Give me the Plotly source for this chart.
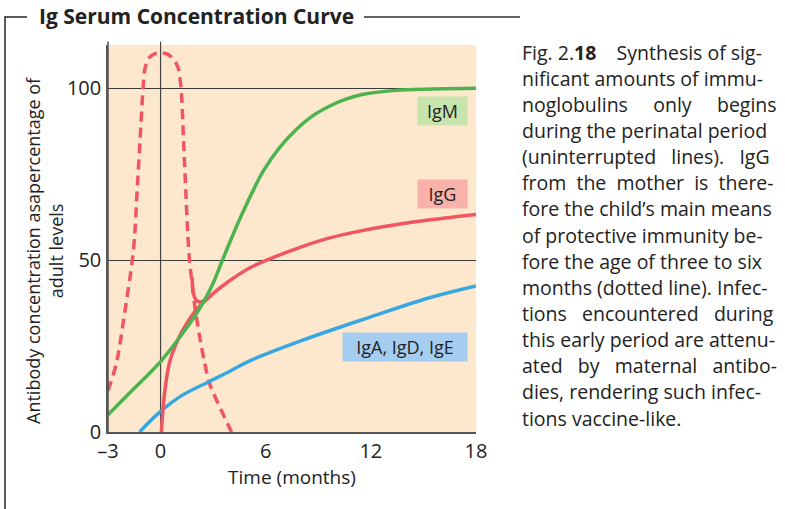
import plotly.graph_objects as go

# ---------------- data ----------------
igm_x = [-3, -1.6, 0, 1.1, 2.05, 2.5, 3.0, 3.5, 4.0, 4.7, 5.85, 6.8, 7.7, 8.6, 9.6, 10.5, 11.5, 13.4, 15.5, 18]
igm_y = [5.0, 12.2, 20.5, 27.6, 34.5, 38.3, 43.3, 49.6, 55.8, 64.0, 75.8, 82.8, 87.8, 91.7, 94.7, 96.7, 98.2, 99.4, 99.8, 100]

igg_x = [0.05, 0.2, 0.5, 1.0, 1.5, 2.0, 2.8, 3.8, 5.0, 6.2, 8.0, 9.6, 11.5, 13.4, 15.5, 18]
igg_y = [0, 10, 20, 27, 31.7, 35.3, 39.4, 43.5, 47.5, 50.3, 53.8, 56.4, 58.6, 60.3, 61.8, 63.3]

iga_x = [-1.2, 0, 1.27, 2.79, 3.93, 5.0, 8.0, 12.0, 15.3, 18]
iga_y = [0, 6, 10.8, 14.7, 17.6, 20.5, 26.5, 33.5, 39, 42.5]

maternal_x = [-3, -2.52, -2.05, -1.61, -1.48, -1.34, -1.17, -1.0, -0.9, -0.7, -0.35, 0.05, 0.45,
              0.8, 1.0, 1.17, 1.31, 1.44, 1.56, 1.65, 1.84, 1.97, 2.22, 2.5, 2.8, 3.45, 4.05]
maternal_y = [12, 20, 34.6, 50, 57, 70, 85, 100, 105.5, 108.6, 110, 110.3, 109.8,
              108, 106, 100, 85, 70, 57, 50, 41.4, 36, 28, 20.5, 14, 6.5, 0]

hook_x = [1.8, 1.87, 2.0, 2.25, 2.5, 2.8]
hook_y = [45, 40.5, 38.6, 37.8, 38.3, 39.4]

x_tickvals = [-3, 0, 6, 12, 18]
x_ticktext = ["\u20133", "0", "6", "12", "18"]
y_tickvals = [0, 50, 100]
y_ticktext = ["0", "50", "100"]

labels = ["IgM", "IgG", "IgA, IgD, IgE"]

caption_lines = [
    "Fig.\u00a02.<b>18</b>\u00a0\u00a0\u00a0 Synthesis of sig-",
    "nificant amounts of immu-",
    "noglobulins\u00a0\u00a0\u00a0\u00a0 only\u00a0\u00a0\u00a0\u00a0 begins",
    "during the perinatal period",
    "(uninterrupted\u00a0\u00a0 lines).\u00a0\u00a0 IgG",
    "from\u00a0 the\u00a0 mother\u00a0 is\u00a0 there-",
    "fore the child\u2019s main means",
    "of protective immunity be-",
    "fore the age of three to six",
    "months (dotted line). Infec-",
    "tions\u00a0\u00a0 encountered\u00a0\u00a0 during",
    "this early period are attenu-",
    "ated\u00a0\u00a0 by\u00a0\u00a0 maternal\u00a0\u00a0 antibo-",
    "dies, rendering such infec-",
    "tions vaccine-like.",
]

# ---------------- styling ----------------
GREEN = "#4cb34f"
RED = "#ef5662"
BLUE = "#38a7e0"
BG = "#fde8cd"
FONT = "Open Sans"

L, R, T, B = 108, 309, 45, 77
W, H = 785, 509
PW = W - L - R
PH = H - T - B


def px2x(px):
    return (px - L) / PW


def px2y(py):
    return (H - B - py) / PH


fig = go.Figure()

fig.add_trace(go.Scatter(x=maternal_x, y=maternal_y, mode="lines",
                         line=dict(color=RED, width=3.5, dash="10px,6px", shape="spline", smoothing=0.8),
                         hoverinfo="skip"))
fig.add_trace(go.Scatter(x=hook_x, y=hook_y, mode="lines",
                         line=dict(color=RED, width=3.5, shape="spline"), hoverinfo="skip"))
fig.add_trace(go.Scatter(x=iga_x, y=iga_y, mode="lines",
                         line=dict(color=BLUE, width=3.5, shape="spline"), name="IgA, IgD, IgE"))
fig.add_trace(go.Scatter(x=igg_x, y=igg_y, mode="lines",
                         line=dict(color=RED, width=3.5, shape="spline"), name="IgG"))
fig.add_trace(go.Scatter(x=igm_x, y=igm_y, mode="lines",
                         line=dict(color=GREEN, width=3.5, shape="spline"), name="IgM"))

shapes = []
shapes.append(dict(type="line", xref="x", yref="paper", x0=0, x1=0, y0=0, y1=px2y(41.5),
                   line=dict(color="#444", width=1.2), layer="below"))
shapes.append(dict(type="line", xref="paper", yref="paper", x0=0, x1=0, y0=0, y1=px2y(41.5),
                   line=dict(color="#555", width=1.5), layer="above"))
shapes.append(dict(type="line", xref="paper", yref="paper", x0=px2x(5), x1=px2x(27),
                   y0=px2y(17), y1=px2y(17), line=dict(color="#333", width=1.6)))
shapes.append(dict(type="line", xref="paper", yref="paper", x0=px2x(364), x1=px2x(520),
                   y0=px2y(17), y1=px2y(17), line=dict(color="#333", width=1.6)))
shapes.append(dict(type="line", xref="paper", yref="paper", x0=px2x(5), x1=px2x(5),
                   y0=px2y(16.2), y1=px2y(512), line=dict(color="#333", width=1.6)))

annotations = []
annotations.append(dict(text="<b>Ig Serum Concentration Curve</b>", xref="paper", yref="paper",
                        x=px2x(37), y=px2y(16), xanchor="left", yanchor="middle", showarrow=False,
                        font=dict(family=FONT, size=21, color="#222")))
annotations.append(dict(text="Antibody concentration asapercentage of<br>adult levels",
                        xref="paper", yref="paper", x=px2x(44), y=px2y(251),
                        xanchor="center", yanchor="middle", textangle=-90, showarrow=False,
                        font=dict(family=FONT, size=18, color="#222")))

box_specs = [
    (labels[0], "#c7e4ad", 93.5, 49),
    (labels[1], "#f8b2aa", 69.3, 49),
    (labels[2], "#a4cdef", 24.7, 124),
]
for txt, col, yv, wbox in box_specs:
    annotations.append(dict(text=txt, x=px2x(468), xref="paper", y=yv, yref="y",
                            xanchor="right", yanchor="middle", showarrow=False,
                            bgcolor=col, width=wbox, height=28, borderpad=0,
                            font=dict(family=FONT, size=18, color="#222")))

for i, line in enumerate(caption_lines):
    annotations.append(dict(text=line, xref="paper", yref="paper",
                            x=px2x(520), y=px2y(52 + 26.15 * i), xanchor="left", yanchor="middle",
                            showarrow=False, align="left",
                            font=dict(family=FONT, size=19.5, color="#222")))

fig.update_layout(
    width=W, height=H,
    margin=dict(l=L, r=R, t=T, b=B),
    paper_bgcolor="white", plot_bgcolor=BG,
    showlegend=False,
    font=dict(family=FONT, color="#222"),
    shapes=shapes, annotations=annotations,
    xaxis=dict(range=[-3, 18], tickvals=x_tickvals, ticktext=x_ticktext,
               showgrid=False, zeroline=False, showline=True, linecolor="#555", linewidth=1.5,
               ticks="", tickfont=dict(family=FONT, size=20, color="#222"),
               title=dict(text="Time (months)", font=dict(family=FONT, size=19, color="#222"), standoff=3)),
    yaxis=dict(range=[0, 112.6], tickvals=y_tickvals, ticktext=y_ticktext,
               showgrid=True, gridcolor="#3a3a3a", gridwidth=1.2, zeroline=False,
               showline=True, linecolor="#555", linewidth=1.5, ticklabelstandoff=1,
               ticks="", tickfont=dict(family=FONT, size=20, color="#222")),
)

fig.write_html("out.html", config={"displayModeBar": False},
               post_script="document.body.style.margin='0px';document.body.style.overflow='hidden';")
